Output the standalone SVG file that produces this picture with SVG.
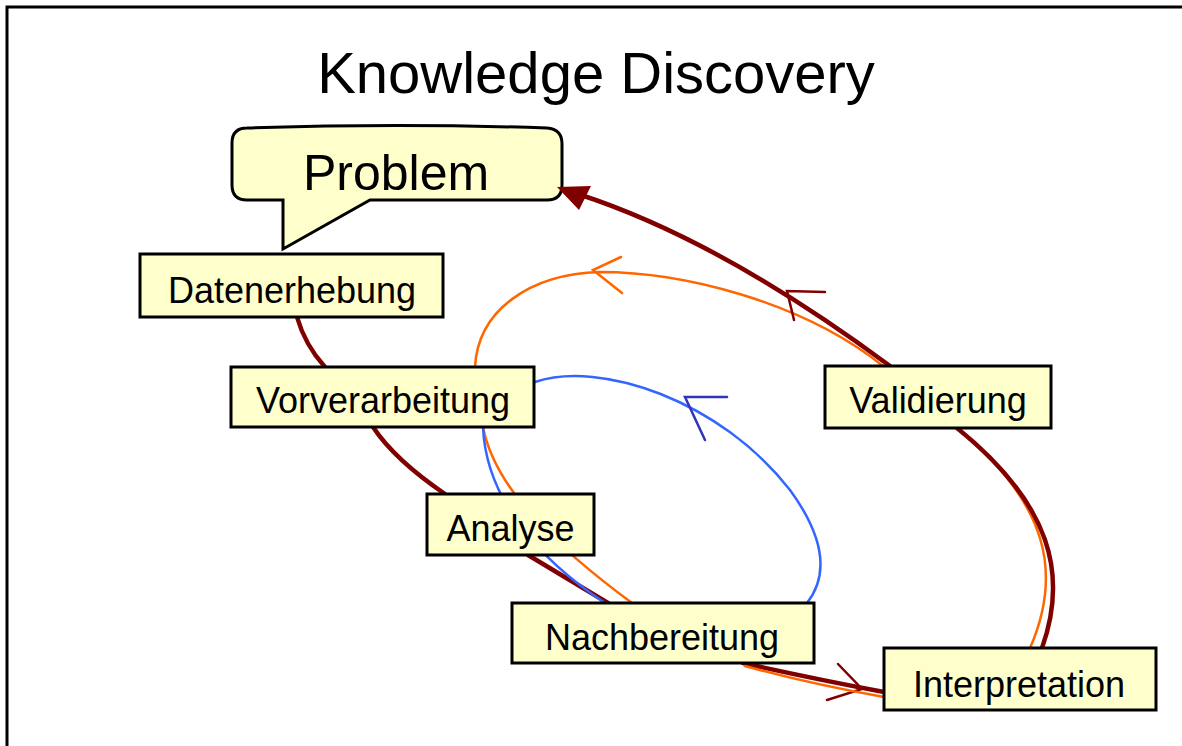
<svg xmlns="http://www.w3.org/2000/svg" width="1182" height="746" viewBox="0 0 1182 746">
<style>
.box{fill:#FFFFCC;stroke:#000;stroke-width:3}
.lbl{font-family:"Liberation Sans",Arial,sans-serif;font-size:36px;fill:#000;text-anchor:middle}
.red{fill:none;stroke:#800000;stroke-width:4.5;stroke-linecap:round}
.redh{fill:none;stroke:#800000;stroke-width:2.5;stroke-linecap:round}
.org{fill:none;stroke:#FF6600;stroke-width:2.5;stroke-linecap:round}
.blu{fill:none;stroke:#3366FF;stroke-width:2.5;stroke-linecap:round}
.bluh{fill:none;stroke:#3333BB;stroke-width:2.5;stroke-linecap:round}
</style>
<rect width="1182" height="746" fill="#fff"/>
<path d="M7,746 L7,7 L1182,7" fill="none" stroke="#000" stroke-width="3"/>
<text x="596" y="93" font-family="'Liberation Sans',Arial,sans-serif" font-size="58" text-anchor="middle" fill="#000">Knowledge Discovery</text>

<g id="problem">
<path class="box" d="M247,128 Q397,123 547,128 Q562,129 562,144 L562,185 Q562,200 547,200 L370,200 L283,249 L283,200 L247,200 Q232,200 232,185 L232,143 Q232,128 247,128 Z"/>
<text x="396" y="190" font-family="'Liberation Sans',Arial,sans-serif" font-size="50" text-anchor="middle" fill="#000">Problem</text>
</g>

<g id="connectors">
<!-- dark red main flow -->
<path class="red" d="M297,317 Q305,345 325,367"/>
<path class="red" d="M373,427 Q395,460 445,494"/>
<path class="red" d="M528,555 Q570,580 608,603"/>
<path class="red" d="M743,663 Q810,678 884,692"/>
<path class="redh" d="M838,664 L862,689 L827,700"/>
<!-- orange loop -->
<path class="org" d="M483,427 C495,490 560,550 632,603"/>
<path class="org" d="M745,666 Q810,684 884,697"/>
<path class="org" d="M1030,648 C1062,575 1050,505 957,428"/>
<path class="org" d="M883,366 C800,300 680,272 600,272 C530,274 478,310 475,367"/>
<path class="org" d="M621,257 L593,270 L622,293"/>
<!-- blue loop -->
<path class="blu" d="M483,427 C486,500 540,560 605,603"/>
<path class="blu" d="M535,382 C600,360 720,400 790,490 C830,545 825,580 807,603"/>
<path class="bluh" d="M727,397 L685,397 L705,440"/>
<!-- dark red return -->
<path class="red" d="M1042,648 C1068,575 1052,505 957,428"/>
<path class="red" d="M890,366 Q720,240 578,194"/>
<path class="redh" d="M825,292 L787,291 L794,320"/>
<polygon points="557,187 591,186 579,210" fill="#800000"/>
</g>

<g id="datenerhebung">
<rect class="box" x="140" y="254" width="303" height="63"/>
<text class="lbl" x="292" y="303">Datenerhebung</text>
</g>
<g id="vorverarbeitung">
<rect class="box" x="231" y="367" width="303" height="60"/>
<text class="lbl" x="383" y="413">Vorverarbeitung</text>
</g>
<g id="analyse">
<rect class="box" x="427" y="494" width="167" height="61"/>
<text class="lbl" x="510.5" y="541">Analyse</text>
</g>
<g id="nachbereitung">
<rect class="box" x="512" y="603" width="302" height="60"/>
<text class="lbl" x="662" y="650">Nachbereitung</text>
</g>
<g id="validierung">
<rect class="box" x="825" y="366" width="226" height="62"/>
<text class="lbl" x="938" y="413">Validierung</text>
</g>
<g id="interpretation">
<rect class="box" x="884" y="648" width="272" height="62"/>
<text class="lbl" x="1019" y="697">Interpretation</text>
</g>
</svg>
